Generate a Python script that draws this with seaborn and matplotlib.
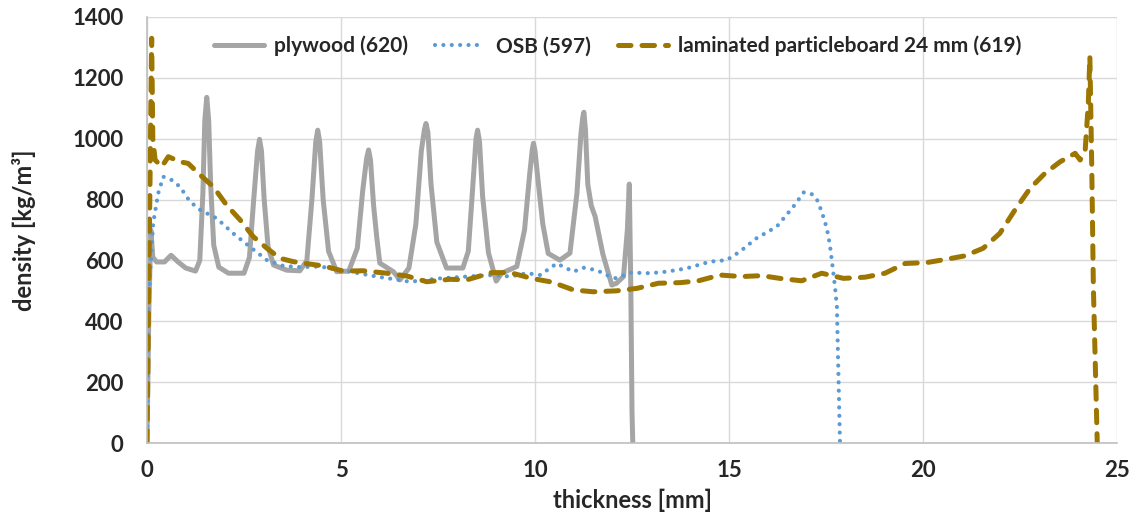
import matplotlib
matplotlib.use("Agg")
import matplotlib.pyplot as plt
import seaborn as sns
import pandas as pd

# density profiles
ply_x = [0, 0.05, 0.1, 0.15, 0.25, 0.45, 0.62, 0.8, 1.0, 1.25, 1.36, 1.44, 1.49, 1.54, 1.59,
         1.64, 1.72, 1.85, 2.1, 2.5, 2.64, 2.75, 2.85, 2.90, 2.95, 3.02, 3.12, 3.26, 3.6,
         3.94, 4.12, 4.25, 4.35, 4.40, 4.45, 4.54, 4.68, 4.89, 5.2, 5.42, 5.56, 5.66, 5.71,
         5.76, 5.84, 5.92, 6.0, 6.35, 6.52, 6.75, 6.93, 7.07, 7.15, 7.19, 7.24, 7.32, 7.47,
         7.72, 8.14, 8.28, 8.4, 8.48, 8.52, 8.57, 8.65, 8.8, 9.0, 9.14, 9.53, 9.73, 9.86,
         9.93, 9.96, 10.0, 10.08, 10.2, 10.34, 10.64, 10.9, 11.08, 11.18, 11.23, 11.26, 11.3,
         11.36, 11.45, 11.55, 11.75, 11.98, 12.1, 12.28, 12.38, 12.43, 12.47, 12.5, 12.52]
ply_y = [0, 450, 700, 610, 595, 595, 617, 595, 575, 565, 600, 820, 1060, 1136, 1060,
         850, 650, 578, 558, 558, 610, 800, 960, 998, 960, 800, 645, 585, 568,
         566, 600, 800, 990, 1028, 990, 800, 630, 563, 565, 640, 830, 935, 963,
         930, 780, 678, 591, 563, 536, 575, 720, 960, 1030, 1050, 1020, 850, 660,
         575, 575, 630, 850, 1000, 1028, 990, 810, 625, 532, 558, 580, 700, 880,
         965, 985, 960, 860, 720, 623, 601, 624, 820, 1010, 1070, 1087, 1030,
         850, 780, 744, 620, 519, 525, 547, 700, 851, 500, 100, 0]

osb_x = [0.0, 0.03, 0.16, 0.29, 0.42, 0.64, 0.85, 1.11, 1.37, 1.8, 2.22, 2.65, 3.09, 3.51,
         3.94, 4.46, 5.23, 5.92, 6.78, 7.55, 8.24, 8.93, 9.36, 9.79, 10.13, 10.56, 10.99,
         11.25, 11.59, 11.93, 12.1, 12.45, 12.96, 13.39, 13.91, 14.51, 14.94, 15.28, 15.71,
         16.23, 16.66, 16.93, 17.13, 17.26, 17.39, 17.52, 17.6, 17.67, 17.73, 17.78, 17.86]
osb_y = [0, 460, 723, 821, 875, 864, 842, 793, 766, 738, 689, 645, 601, 582,
         578, 580, 563, 547, 530, 541, 547, 552, 547, 558, 552, 590, 563,
         576, 568, 547, 541, 560, 558, 563, 574, 596, 601, 629, 673,
         711, 777, 824, 818, 802, 760, 706, 651, 579, 514, 448, 0]

lpb_x = [0.0, 0.12, 0.15, 0.21, 0.38, 0.55, 0.85, 1.06, 1.37, 1.71, 2.05, 2.4, 2.74, 3.09,
         3.43, 3.77, 4.03, 4.54, 5.06, 5.57, 6.18, 6.69, 7.21, 7.81, 8.24, 8.88, 9.36, 9.91,
         10.43, 10.99, 11.5, 12.1, 12.62, 13.18, 13.74, 14.21, 14.77, 15.33, 15.84, 16.31,
         16.87, 17.39, 17.95, 18.51, 19.02, 19.54, 20.1, 20.61, 21.08, 21.55, 21.98, 22.37,
         22.76, 23.14, 23.53, 23.92, 24.05, 24.18, 24.26, 24.3, 24.35, 24.39, 24.49]
lpb_y = [0, 1330, 1000, 930, 908, 941, 924, 919, 881, 842, 782, 733, 678, 640,
         607, 596, 591, 582, 565, 566, 558, 549, 530, 538, 536, 560, 560, 541,
         529, 503, 497, 500, 508, 525, 527, 533, 552, 547, 550, 541,
         533, 558, 541, 545, 558, 590, 593, 604, 615, 640, 689, 766,
         837, 886, 924, 952, 930, 963, 1116, 1270, 897, 514, 0]

ply = pd.DataFrame({"thickness": ply_x, "density": ply_y})
osb = pd.DataFrame({"thickness": osb_x, "density": osb_y})
lpb = pd.DataFrame({"thickness": lpb_x, "density": lpb_y})

sns.set_style("white")
plt.rcParams["font.family"] = ["Lato", "DejaVu Sans"]
plt.rcParams["font.weight"] = "bold"

fig, ax = plt.subplots(figsize=(11.36, 5.21), dpi=100)
fig.subplots_adjust(left=0.1294, right=0.9833, bottom=0.1497, top=0.9674)

sns.lineplot(data=ply, x="thickness", y="density", ax=ax, sort=False, estimator=None,
             color="#A5A5A5", lw=3.6, solid_joinstyle="round", label="plywood (620)")
sns.lineplot(data=osb, x="thickness", y="density", ax=ax, sort=False, estimator=None,
             color="#5B9BD5", lw=3.0, linestyle=(0, (0.01, 2.0)), dash_capstyle="round",
             label="OSB (597)")
sns.lineplot(data=lpb, x="thickness", y="density", ax=ax, sort=False, estimator=None,
             color="#9C7600", lw=3.6, linestyle=(0, (2.5, 2.2)), dash_capstyle="round",
             label="laminated particleboard 24 mm (619)")

ax.set_xlim(0, 25)
ax.set_ylim(0, 1400)
ax.set_xticks(range(0, 26, 5))
ax.set_yticks(range(0, 1401, 200))
ax.grid(True, color="#D9D9D9", lw=1)
ax.tick_params(axis="x", length=0, labelsize=16, pad=12)
ax.tick_params(axis="y", length=0, labelsize=16, pad=17)
for lab in ax.get_xticklabels() + ax.get_yticklabels():
    lab.set_fontweight("bold")
for side in ["top", "right"]:
    ax.spines[side].set_visible(False)
for side in ["left", "bottom"]:
    ax.spines[side].set_color("#BFBFBF")
    ax.spines[side].set_linewidth(1.2)

ax.set_xlabel("thickness [mm]", fontsize=17, fontweight="bold", labelpad=6)
ax.set_ylabel("density [kg/m³]", fontsize=17, fontweight="bold", labelpad=26)

ax.legend(loc="upper center", bbox_to_anchor=(0.485, 1.0), ncol=3, frameon=False,
          handlelength=2.4, columnspacing=1.3, handletextpad=0.5,
          prop={"weight": "bold", "size": 15})

plt.savefig("out.png", dpi=100)
